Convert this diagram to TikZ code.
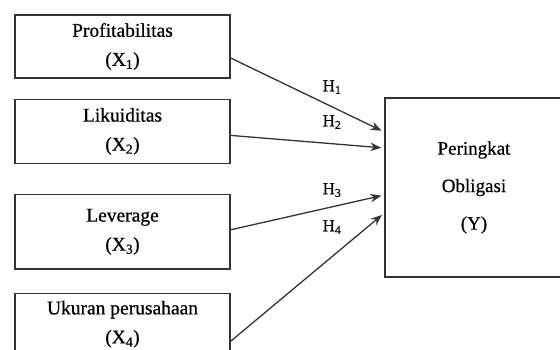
\documentclass[tikz,border=0pt]{standalone}
\usepackage{fontspec}
\setmainfont{Liberation Serif}[FakeBold=0.6]
\usetikzlibrary{arrows.meta,positioning}
\definecolor{linegray}{HTML}{333333}

\begin{document}
\begin{tikzpicture}[x=1pt, y=-1pt,
  varbox/.style={draw=linegray, line width=1.4pt, minimum width=215pt, align=center, font=\fontsize{19.5}{29}\selectfont, inner sep=0pt},
  ybox/.style={draw=linegray, line width=1.4pt, minimum width=178pt, minimum height=179pt, align=center, font=\fontsize{19}{37.5}\selectfont, inner sep=0pt},
  hyp/.style={font=\fontsize{17}{18}\selectfont, inner sep=0pt},
  arr/.style={-{Stealth[length=11pt,width=8.5pt]}, line width=1.3pt, linegray, shorten >=3pt}
]
  \useasboundingbox (0,0) rectangle (560,350);
  \clip (0,0) rectangle (560,350);

  \node[varbox, minimum height=63pt] (x1) at (122.5,46.5) {Profitabilitas\\(X\textsubscript{1})};
  \node[varbox, minimum height=64pt, below=20pt of x1] (x2) {Likuiditas\\(X\textsubscript{2})};
  \node[varbox, minimum height=74pt, below=30pt of x2] (x3) {Leverage\\(X\textsubscript{3})};
  \node[varbox, minimum height=62pt, below=23pt of x3] (x4) {Ukuran perusahaan\\(X\textsubscript{4})};

  \node[ybox] (y) at (474,187.5) {Peringkat\\Obligasi\\(Y)};

  \node[hyp] (h1) at (332,87) {H\textsubscript{1}};
  \node[hyp] (h2) at (332,122) {H\textsubscript{2}};
  \node[hyp] (h3) at (332,190) {H\textsubscript{3}};
  \node[hyp] (h4) at (332,227) {H\textsubscript{4}};

  \draw[arr] ([yshift=-11.5pt]x1.east) -- ([yshift=55.5pt]y.west);
  \draw[arr] ([yshift=-4pt]x2.east) -- ([yshift=39.5pt]y.west);
  \draw[arr] ([yshift=2pt]x3.east) -- ([yshift=-7.5pt]y.west);
  \draw[arr] ([yshift=-17pt]x4.east) -- ([yshift=-25.5pt]y.west);
\end{tikzpicture}
\end{document}
